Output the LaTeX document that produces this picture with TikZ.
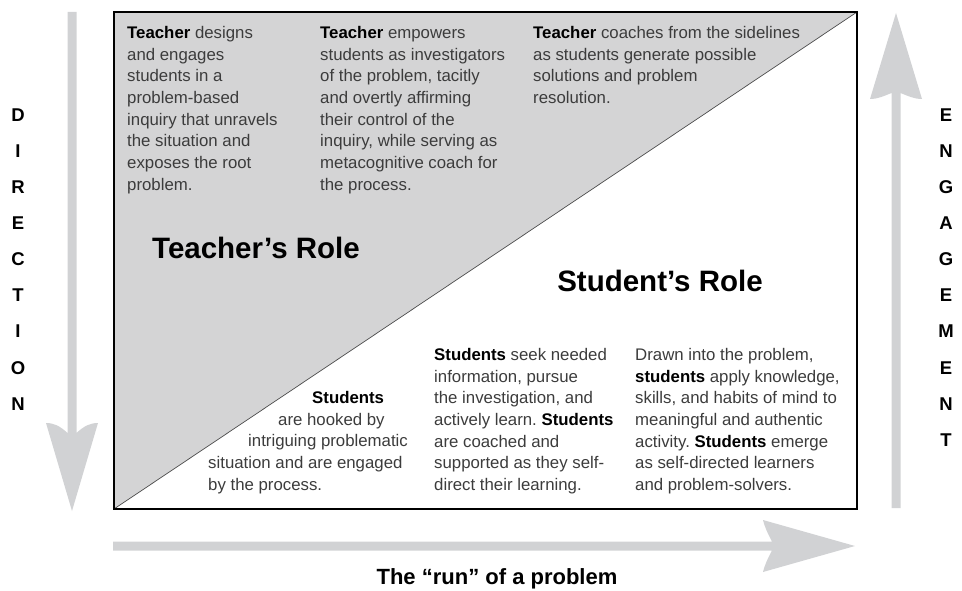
\documentclass[tikz,border=0pt]{standalone}
\usepackage{fontspec}
\setmainfont{Liberation Sans}
\usetikzlibrary{positioning}
\definecolor{arrowgray}{RGB}{209,210,212}
\definecolor{rolegray}{RGB}{212,212,213}
\definecolor{textgray}{RGB}{60,60,60}
\newcommand{\actor}[1]{\textcolor{black}{\textbf{#1}}}
\frenchspacing

\begin{document}
\begin{tikzpicture}[x=1pt,y=-1pt,
    desc/.style={anchor=north west,inner sep=0pt,align=left,text=textgray,font=\fontsize{16.8}{21.7}\selectfont},
    role/.style={inner sep=0pt,font=\fontsize{29.5}{34}\selectfont\bfseries},
    axisletter/.style={inner sep=0pt,font=\fontsize{18.5}{22}\selectfont\bfseries}]
    \useasboundingbox (0,0) rectangle (962,591);
    % Corners of the frame
    \coordinate (tl) at (114,12);
    \coordinate (tr) at (857,12);
    \coordinate (br) at (857,509);
    \coordinate (bl) at (114,509);
    % Teacher triangle and diagonal
    \fill[rolegray] (bl) -- (tl) -- (tr) -- cycle;
    \draw[black!70,line width=0.7pt] (bl) -- (tr);
    \draw[line width=1.6pt] (tl) rectangle (br);
    % Direction arrow
    \fill[arrowgray] (67.5,12) -- (67.5,433) .. controls (60,426) and (54,423) .. (46,423) -- (72,511)
        -- (98,423) .. controls (90,423) and (84,426) .. (76.5,433) -- (76.5,12) -- cycle;
    % Engagement arrow
    \fill[arrowgray] (891.5,508) -- (891.5,93) .. controls (884,96) and (878,99) .. (870,99) -- (896,13)
        -- (922,99) .. controls (914,99) and (908,96) .. (900.5,93) -- (900.5,508) -- cycle;
    % Run arrow
    \fill[arrowgray] (113,541.5) -- (772,541.5) .. controls (768,534) and (765,528) .. (763,520) -- (855,546)
        -- (763,572) .. controls (765,564) and (768,558) .. (772,550.5) -- (113,550.5) -- cycle;
    % Axis labels
    \foreach \l [count=\i] in {D,I,R,E,C,T,I,O,N}
        \node[axisletter] (dir-\i) at (18,{115+36.1*(\i-1)}) {\l};
    \foreach \l [count=\i] in {E,N,G,A,G,E,M,E,N,T}
        \node[axisletter] (eng-\i) at (946,{115+36.1*(\i-1)}) {\l};
    \node[font=\fontsize{22}{26}\selectfont\bfseries,inner sep=0pt] (run) at (497,579) {The “run” of a problem};
    % Roles
    \node[role] (teacher) at (256,248) {Teacher’s Role};
    \node[role] (student) at (660,281) {Student’s Role};
    % Teacher texts
    \node[desc] (design) at (127,26) {\actor{Teacher} designs\\and engages\\students in a\\problem-based\\inquiry that unravels\\the situation and\\exposes the root\\problem.};
    \node[desc] (empower) at (320,26) {\actor{Teacher} empowers\\students as investigators\\of the problem, tacitly\\and overtly affirming\\their control of the\\inquiry, while serving as\\metacognitive coach for\\the process.};
    \node[desc] (coach) at (533,26) {\actor{Teacher} coaches from the sidelines\\as students generate possible\\solutions and problem\\resolution.};
    % Student texts
    \node[desc] (hooked) at (208,391) {\hspace*{104pt}\actor{Students}\\\hspace*{70pt}are hooked by\\\hspace*{40pt}intriguing problematic\\situation and are engaged\\by the process.};
    \node[desc] (seek) at (434,348) {\actor{Students} seek needed\\information, pursue\\the investigation, and\\actively learn. \actor{Students}\\are coached and\\supported as they self-\\direct their learning.};
    \node[desc] (drawn) at (635,348) {Drawn into the problem,\\\actor{students} apply knowledge,\\skills, and habits of mind to\\meaningful and authentic\\activity. \actor{Students} emerge\\as self-directed learners\\and problem-solvers.};
\end{tikzpicture}
\end{document}
